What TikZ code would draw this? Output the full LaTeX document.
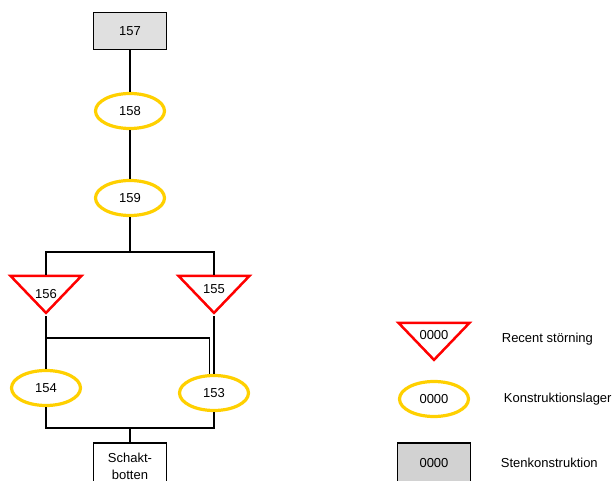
\documentclass[tikz,border=0pt]{standalone}
\usepackage{fontspec}
\setmainfont{Liberation Sans}
\usetikzlibrary{shapes.geometric}

\definecolor{gold}{RGB}{255,208,0}
\definecolor{stoneA}{RGB}{224,224,224}
\definecolor{stoneB}{RGB}{210,210,210}

\tikzset{
  every node/.style={font=\fontsize{13}{17}\selectfont},
  layer/.style={ellipse, draw=gold, line width=3.2pt, minimum width=69pt, minimum height=35pt, inner sep=0pt},
  recent/.style={isosceles triangle, shape border rotate=-90, isosceles triangle stretches,
    draw=red, line width=2.5pt, minimum width=71pt, minimum height=37pt, inner sep=0pt},
  stone/.style={rectangle, draw, line width=1.2pt, minimum width=73pt, minimum height=37pt, inner sep=0pt},
  legtext/.style={anchor=west}
}

\begin{document}
\begin{tikzpicture}[x=1pt, y=-1pt, line width=1.1pt]
\useasboundingbox (0,0) rectangle (614,481);
% shaft
\node [stone, fill=stoneA] (n157) at (130,31) {157};
\node [layer] (n158) at (130,111) {158};
\node [layer] (n159) at (130,198) {159};
\node [recent, label={[yshift=-3pt]center:156}] (n156) at (46,291) {};
\node [recent, label={[yshift=2pt]center:155}] (n155) at (214,291) {};
\node [layer] (n154) at (46,388) {154};
\node [layer] (n153) at (214,393) {153};
\node [stone, minimum height=46pt, align=center] (bot) at (130,466) {Schakt-\\botten};
\coordinate (j1) at (130,252);
\coordinate (j2) at (46,338);
\coordinate (j3) at (130,428);
\path [draw]
(n157) -- (n158)
(n158) -- (n159)
(n159) -- (j1)
(n156.north) |- (j1) -| (n155.north)
(n156.apex) -- (n154)
(j2) -| (n153.104)
(n155.apex) -- (n153)
(n154) |- (j3) -| (n153)
(j3) -- (bot);
% legend
\node [recent, label={[yshift=3pt]center:0000}] (lrec) at (434,338) {};
\node [layer] (llay) at (434,399) {0000};
\node [stone, fill=stoneB, minimum height=40pt] (lsten) at (434,463) {0000};
\node [legtext] (trec) at (498,339) {Recent störning};
\node [legtext] (tlay) at (500,399) {Konstruktionslager};
\node [legtext] (tsten) at (497,463) {Stenkonstruktion};
\end{tikzpicture}
\end{document}
